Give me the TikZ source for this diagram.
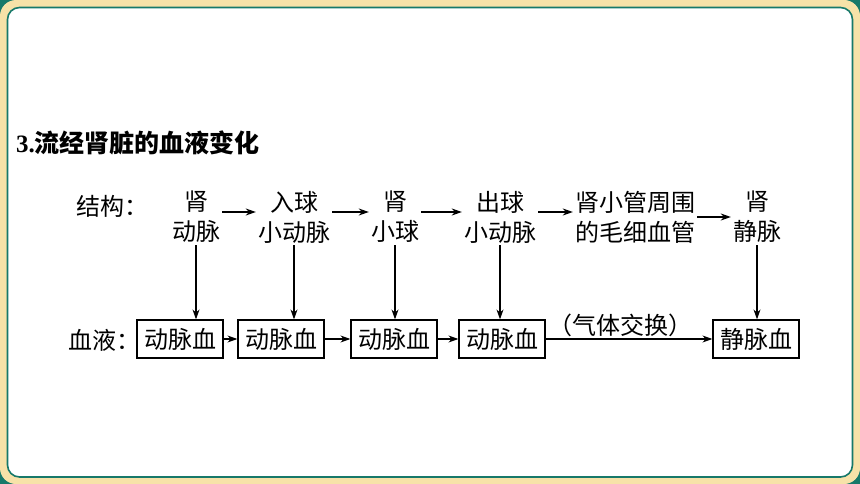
\documentclass[tikz,border=0pt]{standalone}
\usepackage{fontspec}
\setmainfont{Liberation Serif}
\newfontfamily\cjk{Noto Sans CJK SC}
\usetikzlibrary{arrows.meta}
\definecolor{frameteal}{HTML}{17796A}
\definecolor{framecream}{HTML}{F7E2A8}
\begin{document}
\begin{tikzpicture}[x=1pt,y=-1pt,
	every node/.style={font=\cjk\fontsize{24}{30}\selectfont,inner sep=2pt,align=center},
	blood/.style={draw,line width=1.2pt,minimum width=86pt,minimum height=38pt,inner sep=0pt},
	arr/.style={line width=1.2pt,-{Stealth[length=10pt,width=7pt]}}]
		\fill[frameteal] (0,0) rectangle (860,484);
		\fill[framecream,rounded corners=16pt] (0,0) rectangle (860,484);
		\draw[frameteal,line width=1.6pt,fill=white,rounded corners=12pt] (7.5,7.5) rectangle (852.5,477);
		\useasboundingbox (0,0) rectangle (860,484);

		\node[anchor=west,font=\fontsize{25}{30}\selectfont] (title) at (14,143) {{\rmfamily\bfseries 3.}{\cjk\bfseries 流经肾脏的血液变化}};

		\node (jg) at (112,206) {结构：};
		\node (s1) at (196,217) {肾\\动脉};
		\node (s2) at (294,217) {入球\\小动脉};
		\node (s3) at (395,217) {肾\\小球};
		\node (s4) at (500,217) {出球\\小动脉};
		\node (s5) at (635,217) {肾小管周围\\的毛细血管};
		\node (s6) at (757,217) {肾\\静脉};

		\draw[arr] ([yshift=5pt]s1.east) -- ([yshift=5pt]s2.west);
		\draw[arr] ([yshift=5pt]s2.east) -- ([yshift=5pt]s3.west);
		\draw[arr] ([yshift=5pt]s3.east) -- ([yshift=5pt]s4.west);
		\draw[arr] ([yshift=5pt]s4.east) -- ([yshift=5pt]s5.west);
		\draw[arr] (s5.east) -- (s6.west);

		\node (xy) at (104,340) {血液：};
		\node[blood] (a1) at (180,339) {动脉血};
		\node[blood] (a2) at (281,339) {动脉血};
		\node[blood] (a3) at (394,339) {动脉血};
		\node[blood] (a4) at (502,339) {动脉血};
		\node[blood] (v) at (756,339) {静脉血};

		\draw[arr] (a1) -- (a2);
		\draw[arr] (a2) -- (a3);
		\draw[arr] (a3) -- (a4);
		\draw[arr] (a4) -- node[above,pos=.45] (gas) {（气体交换）} (v);

		\foreach \s/\b in {s1/a1,s2/a2,s3/a3,s4/a4,s6/v}
		\draw[arr] (\s.south) -- (\s.south |- \b.north);
	    \end{tikzpicture}
\end{document}
